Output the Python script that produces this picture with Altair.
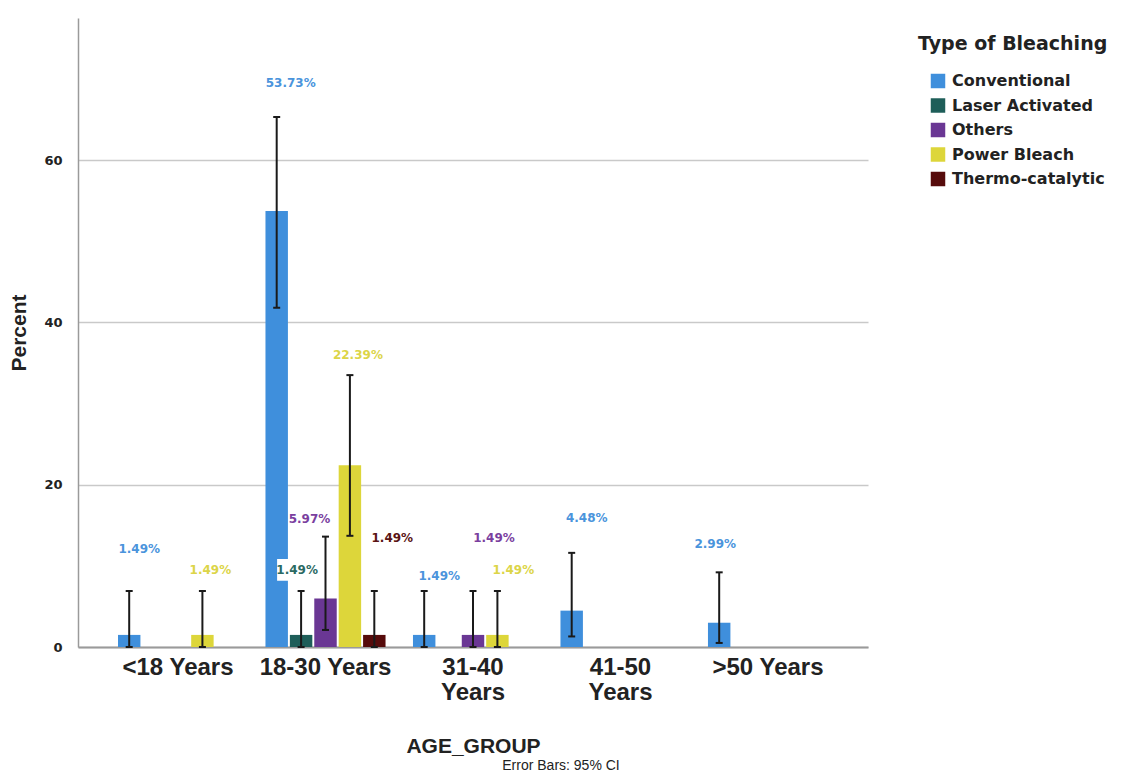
import altair as alt
import pandas as pd

# ---- data ----
age_groups = ["<18 Years", "18-30 Years", "31-40 Years", "41-50 Years", ">50 Years"]
bleach_types = ["Conventional", "Laser Activated", "Others", "Power Bleach", "Thermo-catalytic"]

row_age = ["<18 Years", "<18 Years",
           "18-30 Years", "18-30 Years", "18-30 Years", "18-30 Years", "18-30 Years",
           "31-40 Years", "31-40 Years", "31-40 Years",
           "41-50 Years", ">50 Years"]
row_type = ["Conventional", "Power Bleach",
            "Conventional", "Laser Activated", "Others", "Power Bleach", "Thermo-catalytic",
            "Conventional", "Others", "Power Bleach",
            "Conventional", "Conventional"]
percent = [1.49, 1.49, 53.73, 1.49, 5.97, 22.39, 1.49, 1.49, 1.49, 1.49, 4.48, 2.99]
ci_low = [0.0, 0.0, 41.8, 0.0, 2.1, 13.7, 0.0, 0.0, 0.0, 0.0, 1.3, 0.5]
ci_high = [6.9, 6.9, 65.3, 6.9, 13.6, 33.5, 6.9, 6.9, 6.9, 6.9, 11.6, 9.2]

# label nudges (styling): vertical lift above CI top (percent units), horizontal px shift
label_lift = [5.2, 2.6, 4.2, 2.6, 2.2, 2.5, 6.5, 1.85, 6.5, 2.6, 4.3, 3.45]
label_dx = [10, 8, 14, -4, -16, 8, 18, 15, 21, 16, 15, -4]
label_box = [False, False, False, True, False, False, False, False, False, False, False, False]

bar_colors = ["#3f8fdc", "#1e5e59", "#6a3794", "#ddd63a", "#560b0b"]
text_colors = ["#4a94dc", "#2b6a63", "#7b3f9f", "#dcd548", "#5a1414"]

df = pd.DataFrame({
    "age": row_age,
    "type": row_type,
    "pct": percent,
    "lo": ci_low,
    "hi": ci_high,
    "lift": label_lift,
    "ldx": label_dx,
    "box": label_box,
})
df["label"] = df["pct"].map(lambda v: f"{v:.2f}%")
df["ly"] = df["hi"] + df["lift"]

FONT = "Liberation Sans"
WIDE = "DejaVu Sans"

x_enc = alt.X(
    "age:N",
    sort=age_groups,
    scale=alt.Scale(domain=age_groups, paddingInner=0.186, paddingOuter=0.271),
    axis=alt.Axis(
        title="AGE_GROUP",
        labelAngle=0,
        labelFont=FONT,
        labelFontSize=24,
        labelFontWeight="bold",
        labelColor="#222222",
        labelPadding=8,
        labelLineHeight=25,
        labelExpr="indexof(['31-40 Years','41-50 Years'], datum.value) >= 0 ? split(datum.value, ' ') : datum.value",
        ticks=False,
        domainColor="#9a9a9a",
        domainWidth=2,
        titleFont=FONT,
        titleFontSize=21,
        titleFontWeight="bold",
        titleColor="#222222",
        titleY=99,
        titleBaseline="middle",
    ),
)
xo_enc = alt.XOffset(
    "type:N",
    scale=alt.Scale(domain=bleach_types, paddingInner=0.08, paddingOuter=0),
)

y_scale = alt.Scale(domain=[0, 77.5], nice=False)

bars = alt.Chart(df).mark_bar().encode(
    x=x_enc,
    xOffset=xo_enc,
    y=alt.Y(
        "pct:Q",
        scale=y_scale,
        axis=alt.Axis(
            title="Percent",
            values=[0, 20, 40, 60],
            ticks=False,
            labelFont=WIDE,
            labelFontSize=13,
            labelFontWeight="bold",
            labelColor="#222222",
            labelPadding=16,
            domainColor="#9a9a9a",
            domainWidth=1.5,
            gridColor="#c9c9c9",
            gridWidth=1.5,
            titleFont=FONT,
            titleFontSize=21,
            titleFontWeight="bold",
            titleColor="#222222",
            titlePadding=14,
        ),
    ),
    color=alt.Color(
        "type:N",
        scale=alt.Scale(domain=bleach_types, range=bar_colors),
        legend=alt.Legend(
            title="Type of Bleaching",
            orient="none",
            legendX=840,
            legendY=17,
            titleFont=WIDE,
            titleFontSize=19,
            titleFontWeight="bold",
            titleColor="#222222",
            titlePadding=19,
            titleLimit=320,
            labelFont=WIDE,
            labelFontSize=16,
            labelFontWeight="bold",
            labelColor="#222222",
            labelOffset=6,
            symbolType="square",
            symbolSize=210,
            symbolStrokeWidth=0,
            symbolOpacity=1,
            symbolOffset=12,
            rowPadding=8.5,
            offset=0,
            padding=0,
            labelLimit=260,
        ),
    ),
)

boxes = alt.Chart(df).transform_filter("datum.box").mark_point(
    shape="M-1,-0.45H1V0.45H-1Z", filled=True, color="white", opacity=1, size=2304
).encode(
    x=x_enc,
    xOffset=xo_enc,
    y=alt.Y("ly:Q", scale=y_scale),
)

err = alt.Chart(df).mark_rule(color="#1a1a1a", strokeWidth=2).encode(
    x=x_enc,
    xOffset=xo_enc,
    y=alt.Y("lo:Q", scale=y_scale),
    y2="hi:Q",
)
cap_hi = alt.Chart(df).mark_tick(color="#1a1a1a", thickness=2, size=7, opacity=1).encode(
    x=x_enc, xOffset=xo_enc, y=alt.Y("hi:Q", scale=y_scale)
)
cap_lo = alt.Chart(df).mark_tick(color="#1a1a1a", thickness=2, size=7, opacity=1).encode(
    x=x_enc, xOffset=xo_enc, y=alt.Y("lo:Q", scale=y_scale)
)

label_layers = []
for d in sorted(set(label_dx)):
    label_layers.append(
        alt.Chart(df).transform_filter(f"datum.ldx == {d}").mark_text(
            font=WIDE, fontSize=12, fontWeight="bold", baseline="middle", align="center", dx=d
        ).encode(
            x=x_enc,
            xOffset=xo_enc,
            y=alt.Y("ly:Q", scale=y_scale),
            text="label:N",
            color=alt.Color("type:N", scale=alt.Scale(domain=bleach_types, range=text_colors), legend=None),
        )
    )

chart = alt.layer(bars, boxes, err, cap_hi, cap_lo, *label_layers).resolve_scale(
    color="independent"
).properties(
    width=790,
    height=629,
    autosize=alt.AutoSizeParams(type="none"),
    padding={"left": 70, "top": 10, "right": 250, "bottom": 127},
    title=alt.TitleParams(
        "Error Bars: 95% CI",
        orient="bottom",
        anchor="middle",
        dx=88,
        offset=3,
        font=FONT,
        fontSize=14,
        fontWeight="normal",
        color="#222222",
    ),
).configure_view(stroke=None).configure_axisY(domain=True).configure_axisX(grid=False)

chart.save("out.html", embed_options={"renderer": "svg", "actions": False})
